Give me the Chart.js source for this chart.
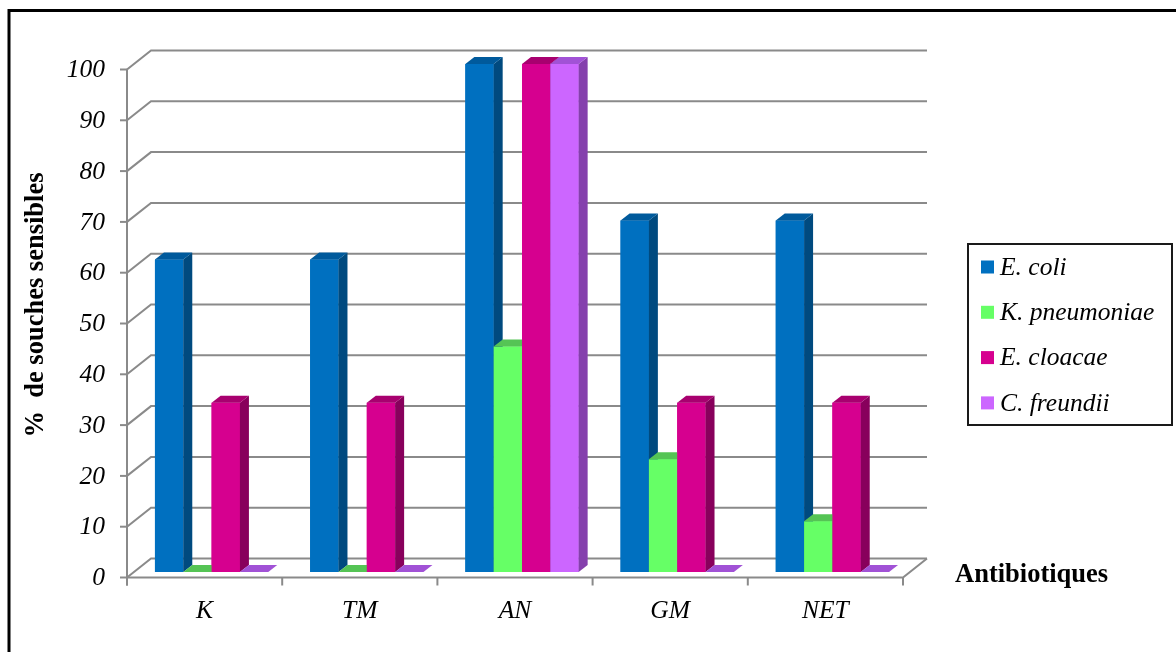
<!DOCTYPE html>
<html>
<head>
<meta charset="utf-8">
<script src="https://cdn.jsdelivr.net/npm/chart.js@4.4.0/dist/chart.umd.min.js"></script>
<style>
  html, body { margin: 0; padding: 0; background: #fff; }
  #wrap { width: 1176px; height: 652px; }
</style>
</head>
<body>
<div id="wrap"><canvas id="chart" width="1176" height="652"></canvas></div>
<script>
// % of susceptible strains per antibiotic and species
const antibiotics = ['K', 'TM', 'AN', 'GM', 'NET'];
const species = ['E. coli', 'K. pneumoniae', 'E. cloacae', 'C. freundii'];
const eColi = [61.5, 61.5, 100, 69.2, 69.2];
const kPneumoniae = [0, 0, 44.4, 22.2, 10];
const eCloacae = [33.3, 33.3, 100, 33.3, 33.3];
const cFreundii = [0, 0, 100, 0, 0];
const yTicks = [0, 10, 20, 30, 40, 50, 60, 70, 80, 90, 100];

// front / side / top shades for the 3D columns
const frontColors = ['#0070C0', '#66FF66', '#D6008F', '#CC66FF'];
const sideColors = ['#004A7F', '#48B848', '#88005C', '#8540AD'];
const topColors = ['#005A9C', '#55C455', '#A8006F', '#A152D6'];

const FONT = '"Liberation Serif", "Times New Roman", serif';
// floor depth, offset of the column plane from the front edge, column thickness
const DEPTH_X = 24, DEPTH_Y = 19;
const OFF_X = 7, OFF_Y = 5.5;
const BAR_DX = 9, BAR_DY = 7;

function poly(ctx, pts, fill) {
    ctx.beginPath();
    ctx.moveTo(pts[0][0], pts[0][1]);
    for (let i = 1; i < pts.length; i++) ctx.lineTo(pts[i][0], pts[i][1]);
    ctx.closePath();
    ctx.fillStyle = fill;
    ctx.fill();
}

const frame3d = {
    id: 'frame3d',
    beforeDraw(chart) {
        const ctx = chart.ctx;
        ctx.save();
        ctx.fillStyle = '#fff';
        ctx.fillRect(0, 0, chart.width, chart.height);
        ctx.strokeStyle = '#000';
        ctx.lineWidth = 3;
        ctx.strokeRect(9, 10.5, chart.width + 20, chart.height + 20);
        ctx.restore();
    },
    beforeDatasetsDraw(chart) {
        const ctx = chart.ctx;
        const xs = chart.scales.x, ys = chart.scales.y;
        const area = chart.chartArea;
        const left = area.left - OFF_X, right = area.right - OFF_X;
        const fy = v => ys.getPixelForValue(v) + OFF_Y;
        const y0 = fy(0);
        ctx.save();
        ctx.strokeStyle = '#8a8a8a';
        ctx.lineWidth = 2;
        ctx.lineJoin = 'miter';
        // back wall gridlines with the diagonal on the side wall
        yTicks.forEach(v => {
            const y = fy(v);
            ctx.beginPath();
            ctx.moveTo(left, y);
            ctx.lineTo(left + DEPTH_X, y - DEPTH_Y);
            ctx.lineTo(right + DEPTH_X, y - DEPTH_Y);
            ctx.stroke();
            ctx.beginPath();
            ctx.moveTo(left - 7, y);
            ctx.lineTo(left, y);
            ctx.stroke();
        });
        // floor front and right edges
        ctx.beginPath();
        ctx.moveTo(left, y0);
        ctx.lineTo(right, y0);
        ctx.lineTo(right + DEPTH_X, y0 - DEPTH_Y);
        ctx.stroke();
        // vertical axis
        ctx.beginPath();
        ctx.moveTo(left, fy(100));
        ctx.lineTo(left, y0 + 8);
        ctx.stroke();
        // category tick marks
        const catW = (right - left) / antibiotics.length;
        for (let k = 0; k <= antibiotics.length; k++) {
            const x = left + k * catW;
            ctx.beginPath();
            ctx.moveTo(x, y0);
            ctx.lineTo(x, y0 + 8);
            ctx.stroke();
        }

        // tick labels
        ctx.fillStyle = '#000';
        ctx.font = 'italic 25.5px ' + FONT;
        ctx.textAlign = 'right';
        ctx.textBaseline = 'middle';
        yTicks.forEach(v => ctx.fillText(String(v), left - 22, fy(v) + 1));
        ctx.textAlign = 'center';
        antibiotics.forEach((name, i) => {
            ctx.fillText(name, xs.getPixelForValue(i) - OFF_X, y0 + 34);
        });

        // axis titles
        ctx.font = 'bold 26.5px ' + FONT;
        ctx.textAlign = 'left';
        ctx.fillText('Antibiotiques', 955, y0 - 2);
        ctx.save();
        ctx.translate(36, 305);
        ctx.rotate(-Math.PI / 2);
        ctx.textAlign = 'center';
        ctx.fillText('%  de souches sensibles', 0, 0);
        ctx.restore();
        ctx.restore();
    },
    afterDatasetsDraw(chart) {
        const ctx = chart.ctx;
        const metas = chart.data.datasets.map((d, i) => chart.getDatasetMeta(i));
        ctx.save();
        antibiotics.forEach((name, i) => {
            metas.forEach((meta, d) => {
                const el = meta.data[i];
                const x0 = el.x - el.width / 2, x1 = el.x + el.width / 2;
                const yt = el.y, yb = el.base;
                if (yb - yt > 0.5) {
                    poly(ctx, [[x0, yt], [x1, yt], [x1, yb], [x0, yb]], frontColors[d]);
                    poly(ctx, [[x1, yt], [x1 + BAR_DX, yt - BAR_DY], [x1 + BAR_DX, yb - BAR_DY], [x1, yb]], sideColors[d]);
                }
                poly(ctx, [[x0, yt], [x0 + BAR_DX, yt - BAR_DY], [x1 + BAR_DX, yt - BAR_DY], [x1, yt]], topColors[d]);
            });
        });
        ctx.restore();
    },
    afterDraw(chart) {
        // legend box
        const ctx = chart.ctx;
        ctx.save();
        ctx.strokeStyle = '#1a1a1a';
        ctx.lineWidth = 2;
        ctx.strokeRect(968, 244, 204, 181);
        ctx.font = 'italic 25.5px ' + FONT;
        ctx.textAlign = 'left';
        ctx.textBaseline = 'middle';
        chart.data.datasets.forEach((ds, i) => {
            const cy = 267 + i * 45.3;
            ctx.fillStyle = ds.backgroundColor;
            ctx.fillRect(981, cy - 6.5, 13, 13);
            ctx.fillStyle = '#000';
            ctx.fillText(ds.label, 1000, cy + 1);
        });
        ctx.restore();
    }
};

new Chart(document.getElementById('chart').getContext('2d'), {
    type: 'bar',
    data: {
        labels: antibiotics,
        datasets: [
            { label: species[0], data: eColi, backgroundColor: frontColors[0] },
            { label: species[1], data: kPneumoniae, backgroundColor: frontColors[1] },
            { label: species[2], data: eCloacae, backgroundColor: frontColors[2] },
            { label: species[3], data: cFreundii, backgroundColor: frontColors[3] }
        ]
    },
    options: {
        responsive: false,
        animation: false,
        layout: { padding: { left: 134, right: 266, top: 64, bottom: 80 } },
        datasets: { bar: { categoryPercentage: 0.73, barPercentage: 1 } },
        scales: {
            x: { display: false },
            y: { display: false, min: 0, max: 100 }
        },
        plugins: { legend: { display: false }, tooltip: { enabled: false } }
    },
    plugins: [frame3d]
});
</script>
</body>
</html>
